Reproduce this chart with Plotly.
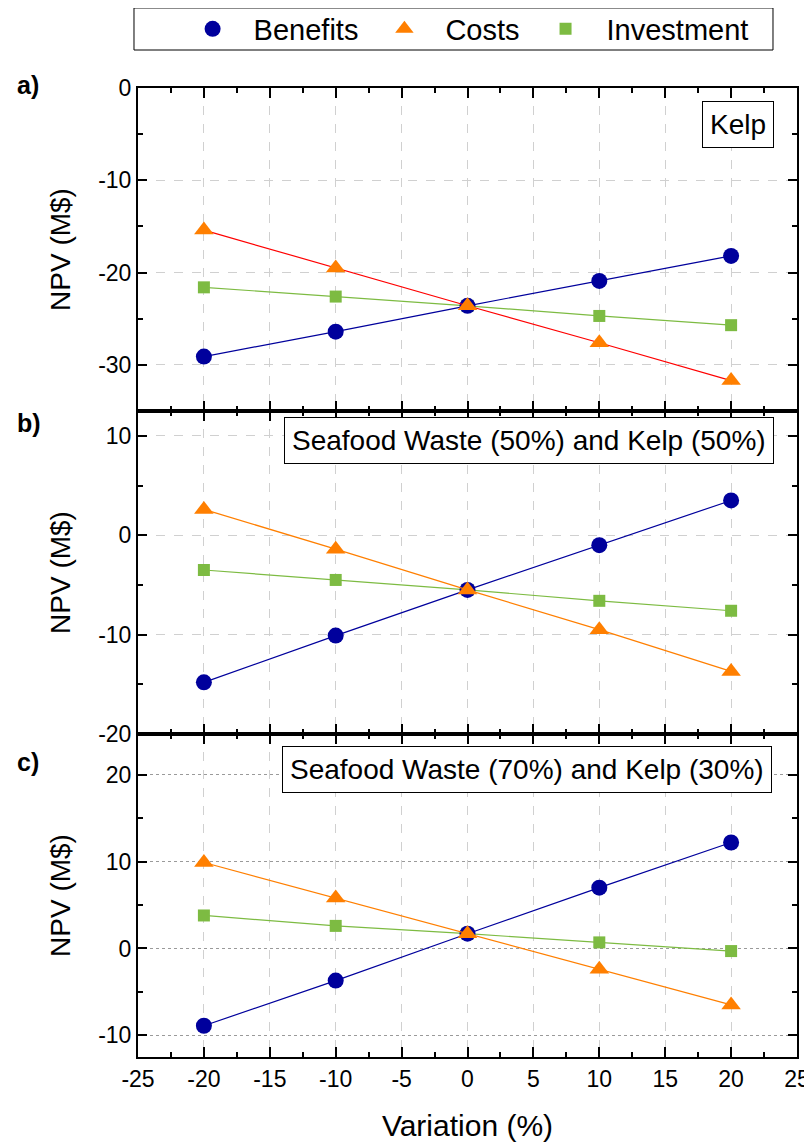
import plotly.graph_objects as go
from plotly.subplots import make_subplots

variation = [-20, -10, 0, 10, 20]

# Panel a) Kelp
kelp_benefits = [-29.1, -26.4, -23.6, -20.9, -18.2]
kelp_costs = [-15.4, -19.5, -23.6, -27.6, -31.7]
kelp_investment = [-21.6, -22.6, -23.6, -24.7, -25.7]

# Panel b) Seafood Waste (50%) and Kelp (50%)
mix50_benefits = [-14.8, -10.1, -5.5, -1.0, 3.5]
mix50_costs = [2.6, -1.4, -5.5, -9.5, -13.7]
mix50_investment = [-3.5, -4.5, -5.5, -6.6, -7.6]

# Panel c) Seafood Waste (70%) and Kelp (30%)
mix70_benefits = [-8.9, -3.7, 1.7, 7.0, 12.2]
mix70_costs = [9.9, 5.8, 1.7, -2.4, -6.5]
mix70_investment = [3.8, 2.6, 1.7, 0.7, -0.3]

panel_titles = ["Kelp", "Seafood Waste (50%) and Kelp (50%)", "Seafood Waste (70%) and Kelp (30%)"]
panel_letters = ["a)", "b)", "c)"]
series_names = ["Benefits", "Costs", "Investment"]

x_tickvals = [-25, -20, -15, -10, -5, 0, 5, 10, 15, 20, 25]
x_ticktext = ["-25", "-20", "-15", "-10", "-5", "0", "5", "10", "15", "20", "25"]
y_tickvals = [[0, -10, -20, -30], [10, 0, -10, -20], [20, 10, 0, -10]]
y_ticktext = [["0", "-10", "-20", "-30"], ["10", "0", "-10", "-20"], ["20", "10", "0", "-10"]]

BLUE = "#00009C"
ORANGE = "#FF7F00"
RED = "#FF0000"
GREEN = "#7DBB42"
FONT = "Liberation Sans, Arial, sans-serif"

fig = make_subplots(rows=3, cols=1, shared_xaxes=True, vertical_spacing=0)

panels = [
    (kelp_benefits, kelp_costs, kelp_investment, RED),
    (mix50_benefits, mix50_costs, mix50_investment, ORANGE),
    (mix70_benefits, mix70_costs, mix70_investment, ORANGE),
]

for i, (ben, cost, inv, cost_line) in enumerate(panels, start=1):
    fig.add_trace(go.Scatter(x=variation, y=inv, mode="lines+markers", showlegend=False,
                             line=dict(color=GREEN, width=1.2),
                             marker=dict(symbol="square", size=12, color=GREEN)), row=i, col=1)
    fig.add_trace(go.Scatter(x=variation, y=ben, mode="lines+markers", showlegend=False,
                             line=dict(color=BLUE, width=1.2),
                             marker=dict(symbol="circle", size=16, color=BLUE)), row=i, col=1)
    fig.add_trace(go.Scatter(x=variation, y=cost, mode="lines+markers", showlegend=False,
                             line=dict(color=cost_line, width=1.2),
                             marker=dict(symbol="triangle-up", size=17, color=ORANGE)), row=i, col=1)

# legend-only marker traces
for name, sym, col, sz in zip(series_names, ["circle", "triangle-up", "square"], [BLUE, ORANGE, GREEN], [16, 17, 12]):
    fig.add_trace(go.Scatter(x=[None], y=[None], mode="markers", name=name,
                             marker=dict(symbol=sym, size=sz, color=col)), row=1, col=1)

y_ranges = [[-35, 0], [-20, 12.5], [-12.5, 24.7]]
for i in range(1, 4):
    fig.update_yaxes(row=i, col=1, range=y_ranges[i - 1], tickmode="array",
                     tickvals=y_tickvals[i - 1], ticktext=y_ticktext[i - 1],
                     showline=True, linewidth=2, linecolor="black", mirror="allticks",
                     ticks="inside", ticklen=9, tickwidth=2, tickcolor="black",
                     minor=dict(dtick=5, tick0=0, ticks="inside", ticklen=5, tickwidth=1.5, tickcolor="black",
                                showgrid=False),
                     showgrid=True, gridcolor="#9a9a9a" if i == 3 else "#d0d0d0",
                     griddash="dot" if i == 3 else "dash", gridwidth=1,
                     zeroline=False,
                     tickfont=dict(family=FONT, size=23, color="black"),
                     title=dict(text="NPV (M$)", font=dict(family=FONT, size=28, color="black"), standoff=19))
    fig.update_xaxes(row=i, col=1, range=[-25, 25], tickmode="array",
                     tickvals=x_tickvals, ticktext=x_ticktext,
                     showline=True, linewidth=2, linecolor="black", mirror="allticks",
                     ticks="inside", ticklen=10, tickwidth=2, tickcolor="black",
                     minor=dict(dtick=2.5, tick0=0, ticks="inside", ticklen=5, tickwidth=1.5, tickcolor="black",
                                showgrid=False),
                     showgrid=True, gridcolor="#d0d0d0", griddash="dash", gridwidth=1,
                     zeroline=False,
                     tickfont=dict(family=FONT, size=23, color="black"))
fig.update_xaxes(row=3, col=1, title=dict(text="Variation (%)", font=dict(family=FONT, size=30, color="black"),
                                          standoff=24))

annotations = []
box_pos = [(0.965, 0.9628), (0.965, 0.6367), (0.962, 0.2962)]
for (bx, by), txt in zip(box_pos, panel_titles):
    annotations.append(dict(xref="paper", yref="paper", x=bx, y=by, xanchor="right", yanchor="middle",
                            text=txt, showarrow=False, bgcolor="white", bordercolor="black", borderwidth=1,
                            borderpad=7, font=dict(family=FONT, size=28, color="black")))
for ly, letter in zip([1.0031, 0.6543, 0.3044], panel_letters):
    annotations.append(dict(xref="paper", yref="paper", x=-0.186, y=ly, xanchor="left", yanchor="middle",
                            text="<b>" + letter + "</b>", showarrow=False,
                            font=dict(family=FONT, size=25, color="black")))

fig.update_layout(
    width=804, height=1134,
    margin=dict(l=130, r=15, t=80, b=85, autoexpand=False),
    plot_bgcolor="white", paper_bgcolor="white",
    font=dict(family=FONT, color="black"),
    annotations=annotations,
    showlegend=True,
    legend=dict(orientation="h", x=0.051, xanchor="left", y=1.0609, yanchor="middle",
                bgcolor="rgba(0,0,0,0)", borderwidth=0, itemwidth=72,
                font=dict(family=FONT, size=29, color="black")),
    shapes=[dict(type="rect", xref="paper", yref="paper", x0=-0.00607, x1=0.96358, y0=1.0392, y1=1.0826,
                 line=dict(color="black", width=1), fillcolor="rgba(0,0,0,0)")],
)

fig.write_html("out.html")
